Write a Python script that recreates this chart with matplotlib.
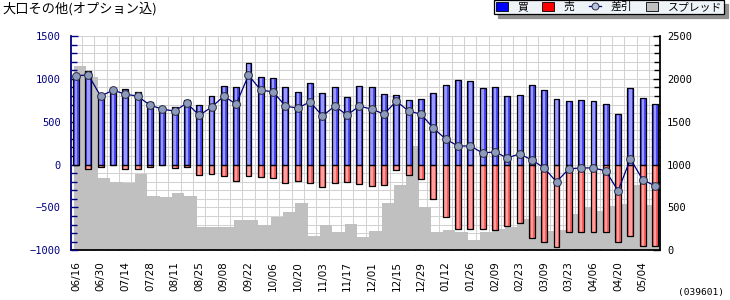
import numpy as np
import matplotlib
matplotlib.use("Agg")
import matplotlib.pyplot as plt
from matplotlib.patches import Patch
from matplotlib.lines import Line2D
from matplotlib.ticker import FixedLocator, MultipleLocator

# ---------------- data ----------------
weeks = ["06/16", "06/23", "06/30", "07/07", "07/14", "07/21", "07/28", "08/04",
         "08/11", "08/18", "08/25", "09/01", "09/08", "09/15", "09/22", "09/29",
         "10/06", "10/13", "10/20", "10/27", "11/03", "11/10", "11/17", "11/24",
         "12/01", "12/08", "12/15", "12/22", "12/29", "01/05", "01/12", "01/19",
         "01/26", "02/02", "02/09", "02/16", "02/23", "03/02", "03/09", "03/16",
         "03/23", "03/30", "04/06", "04/13", "04/20", "04/27", "05/04", "05/11"]

buy = [1045, 1097, 829, 880, 880, 845, 729, 670, 667, 748, 690, 798,
       922, 903, 1182, 1019, 1008, 903, 845, 950, 833, 903, 787, 915,
       903, 822, 810, 752, 764, 833, 926, 985, 973, 891, 903, 798,
       810, 926, 868, 764, 740, 752, 740, 705, 589, 891, 775, 705]

sell = [-8, -52, -30, -5, -52, -52, -31, -5, -42, -27, -125, -112,
        -133, -193, -128, -147, -158, -216, -194, -216, -263, -216, -205, -228,
        -251, -239, -64, -123, -169, -402, -612, -750, -750, -750, -762, -713,
        -678, -857, -902, -960, -785, -785, -785, -785, -902, -832, -949, -949]

net = [1035, 1047, 798, 868, 822, 798, 694, 647, 624, 717, 574, 670,
       798, 705, 1043, 868, 849, 682, 659, 733, 566, 682, 578, 682,
       647, 589, 740, 624, 589, 426, 298, 217, 217, 136, 147, 78,
       124, 54, -39, -202, -50, -39, -39, -74, -306, 66, -178, -248]

spread = [2150, 2020, 844, 802, 786, 891, 634, 623, 669, 634, 272, 272,
          272, 354, 354, 300, 389, 447, 553, 167, 296, 214, 307, 156,
          226, 553, 763, 1218, 502, 214, 237, 218, 121, 218, 249, 276,
          362, 401, 230, 240, 420, 505, 459, 521, 544, 762, 533, 606]

title = "大口その他(オプション込)"
code_text = "(039601)"
legend_labels = ["買", "売", "差引", "スプレッド"]

# ---------------- figure ----------------
W, H = 730, 300
fig = plt.figure(figsize=(W / 100, H / 100), dpi=100)
fig.patch.set_facecolor("white")

cjk = ["Noto Sans CJK JP", "DejaVu Sans"]
mono = "DejaVu Sans Mono"
navy = "#000080"
gridc = "#d2d2d2"

L, R, T, B = 70.7, 660.0, 36.0, 250.3
rect = [L / W, 1 - B / H, (R - L) / W, (B - T) / H]

# background axes: grid + spread (right scale)
ax2 = fig.add_axes(rect, zorder=1)
# foreground axes: bars + net line (left scale)
ax = fig.add_axes(rect, zorder=2, sharex=ax2)
ax.patch.set_visible(False)
ax2.patch.set_facecolor("white")

x = np.arange(len(weeks))
y2_ticks = np.arange(0, 2501, 100)

ax2.set_ylim(0, 2500)
ax.set_ylim(-1000, 1500)
ax2.set_xlim(-0.43, 47.4)

# grid lines, drawn as lines at the tick positions, under the spread area
ax2.hlines(y2_ticks, -1, len(weeks) + 1, colors=gridc, linewidth=0.75, zorder=1)
ax2.vlines(x + 0.5, 0, 2500, colors=gridc, linewidth=0.75, zorder=1)
ax2.set_xlim(-0.43, 47.4)
ax2.set_ylim(0, 2500)

# spread area, stepped
xs = np.append(x, len(weeks)) - 0.2
ys = np.append(spread, spread[-1])
ax2.fill_between(xs, ys, 0, step="post", color="#c0c0c0", lw=0, zorder=2)

# buy / sell bars
bw = 0.48
ax.bar(x, buy, width=bw, color="#4848ff", lw=0, zorder=3)
ax.bar(x, buy, width=bw * 0.42, color="#9a9aff", lw=0, zorder=3)
ax.bar(x, buy, width=bw, fill=False, edgecolor="black", lw=0.9, zorder=4)
ax.bar(x, sell, width=bw, color="#ff5c5c", lw=0, zorder=3)
ax.bar(x, sell, width=bw * 0.42, color="#ffa0a0", lw=0, zorder=3)
ax.bar(x, sell, width=bw, fill=False, edgecolor="black", lw=0.9, zorder=4)

# net line
ax.plot(x, net, color=navy, lw=0.9, marker="o", ms=5.6,
        mfc="#8c9bbb", mec="#2c2c44", mew=0.7, zorder=5)

# ---------------- spines ----------------
for s in ["top", "right", "left", "bottom"]:
    ax.spines[s].set_visible(False)
    ax2.spines[s].set_visible(False)
ax.spines["left"].set_visible(True)
ax.spines["left"].set_color(navy)
ax.spines["left"].set_linewidth(1.3)
ax2.spines["right"].set_visible(True)
ax2.spines["right"].set_color("black")
ax2.spines["right"].set_linewidth(1.3)
ax2.spines["bottom"].set_visible(True)
ax2.spines["bottom"].set_color("black")
ax2.spines["bottom"].set_linewidth(1.3)

# ---------------- ticks ----------------
ax.yaxis.tick_left()
ax.yaxis.set_major_locator(MultipleLocator(500))
ax.yaxis.set_minor_locator(MultipleLocator(100))
ax.tick_params(axis="y", which="major", direction="in", length=5, width=1,
               color=navy, labelcolor=navy, labelsize=7.5, pad=7)
ax.tick_params(axis="y", which="minor", direction="in", length=4, width=1,
               color=navy)
for lab in ax.get_yticklabels():
    lab.set_family(mono)
ax.tick_params(axis="x", which="both", bottom=False, labelbottom=False,
               top=False, labeltop=False)

ax2.yaxis.tick_right()
ax2.yaxis.set_major_locator(MultipleLocator(500))
ax2.yaxis.set_minor_locator(MultipleLocator(100))
ax2.tick_params(axis="y", which="major", direction="in", length=5, width=1,
                color="black", labelcolor="black", labelsize=7.5, pad=5)
ax2.tick_params(axis="y", which="minor", direction="in", length=4, width=1,
                color="black")
for lab in ax2.get_yticklabels():
    lab.set_family(mono)

ax2.xaxis.set_major_locator(FixedLocator(x[::2]))
ax2.xaxis.set_minor_locator(FixedLocator(x + 0.5))
ax2.set_xticklabels(weeks[::2], rotation=90, fontsize=7.5,
                    family=["Liberation Sans Narrow", "DejaVu Sans"])
ax2.tick_params(axis="x", which="major", length=0, pad=8)
ax2.tick_params(axis="x", which="minor", direction="in", length=5, width=1,
                color="black")

# ---------------- texts ----------------
fig.text(2 / W, 1 - 8.5 / H, title, family=cjk, fontsize=9.5,
         ha="left", va="center", color="black")
fig.text(724 / W, 1 - 292 / H, code_text, family=mono, fontsize=6.8,
         ha="right", va="center", color="black")

# ---------------- legend ----------------
handles = [
    Patch(facecolor="#0000ff", edgecolor="black", lw=0.6),
    Patch(facecolor="#ff0000", edgecolor="black", lw=0.6),
    Line2D([0], [0], color=navy, lw=0.9, marker="o", ms=5,
           mfc="#b8c4dc", mec="#2c2c44", mew=0.7),
    Patch(facecolor="#c0c0c0", edgecolor="black", lw=0.6),
]
leg = fig.legend(handles, legend_labels, loc="upper right",
                 bbox_to_anchor=(724 / W, 1.0), ncol=4, frameon=True,
                 fancybox=False,
                 shadow={"color": "#909090", "alpha": 1.0, "ox": 3, "oy": -3},
                 edgecolor="black", facecolor="#eef3f8",
                 prop={"family": cjk, "size": 7.8},
                 borderpad=0.15, handlelength=1.1, handleheight=0.9,
                 handletextpad=0.9, columnspacing=1.3, borderaxespad=0.0)
leg.get_frame().set_linewidth(0.9)

fig.savefig("out.png", dpi=100, facecolor="white")
